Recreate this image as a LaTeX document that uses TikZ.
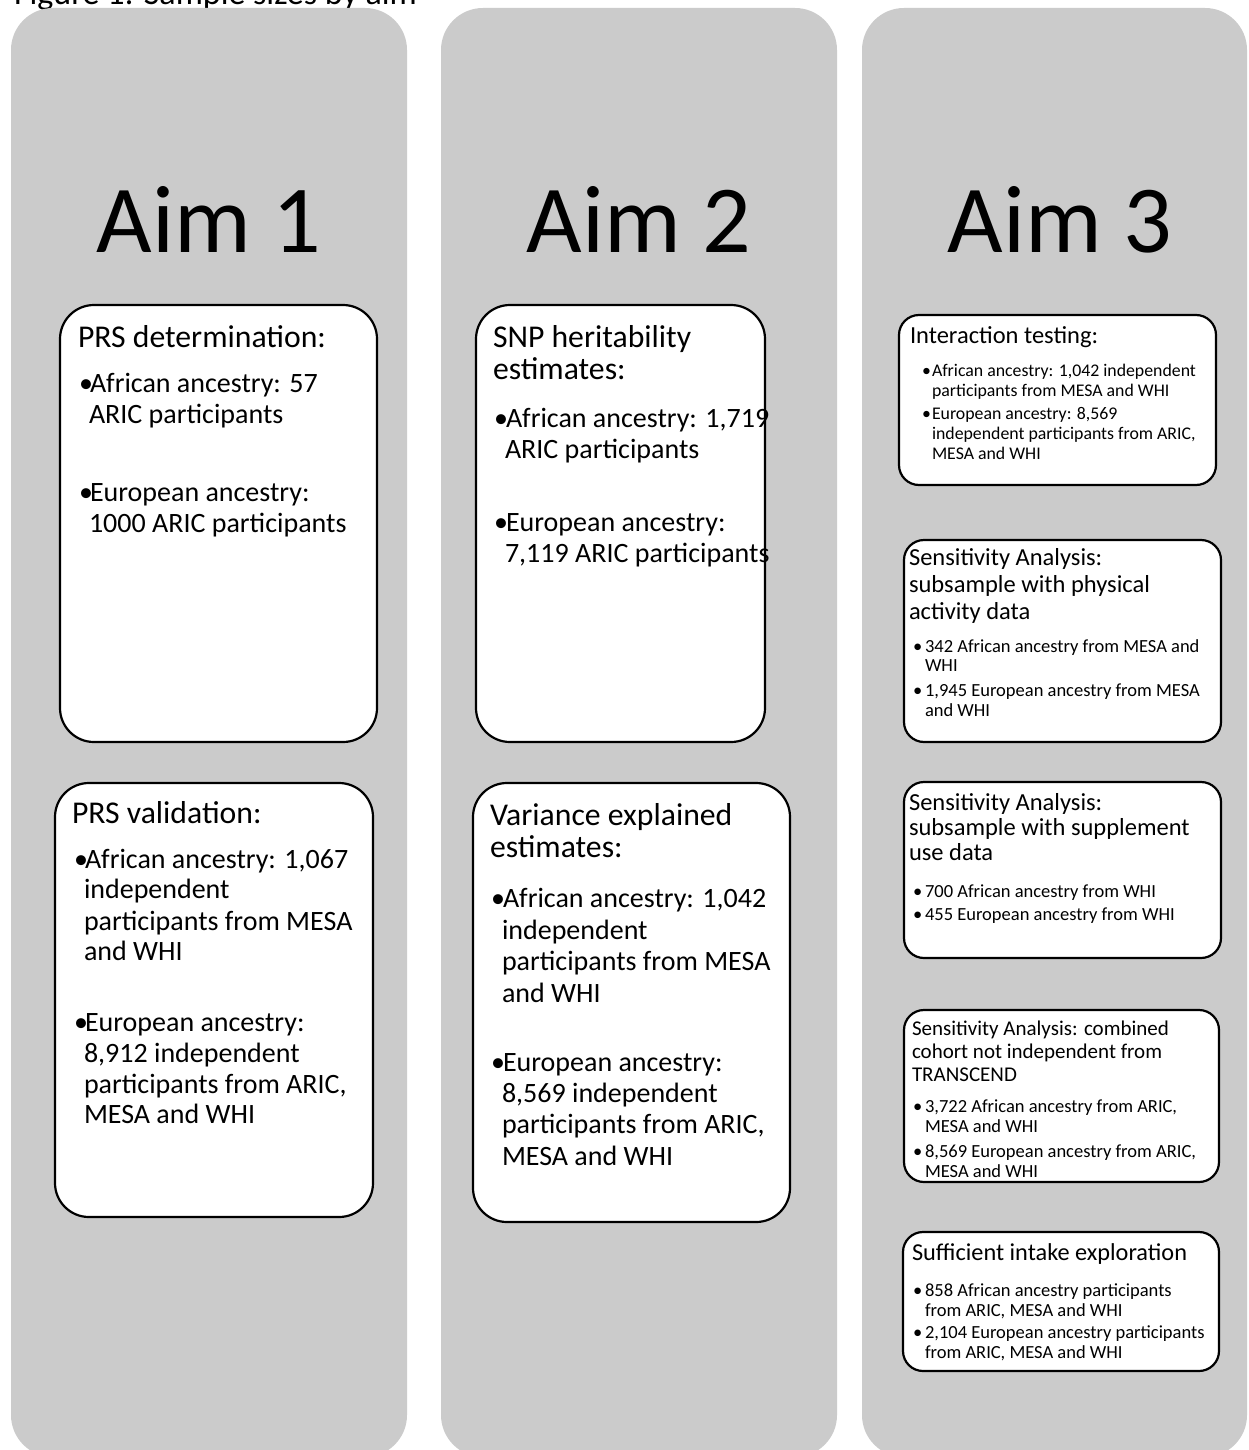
\documentclass[tikz,border=0pt]{standalone}
\usepackage{fontspec}
\setmainfont{Carlito}
\definecolor{panelgray}{RGB}{203,203,203}
\newcommand{\fsz}[1]{\fontsize{#1}{#1}\selectfont}
\tikzset{
  panelbox/.style={fill=panelgray, draw=none, rounded corners=42pt},
  bigbox/.style={fill=white, draw=black, line width=2.2pt, rounded corners=34pt},
  smallbox/.style={fill=white, draw=black, line width=2.2pt, rounded corners=20pt},
  ln/.style={anchor=base west, inner sep=0pt, outer sep=0pt, text=black},
  aim/.style={anchor=base, inner sep=0pt, text=black, font=\fsz{96}},
  bt/.style={ln, font=\fsz{28}},
  bh/.style={ln, font=\fsz{31.7}},
  st/.style={ln, font=\fsz{24.5}},
  sb/.style={ln, font=\fsz{18.5}},
}
\begin{document}
\begin{tikzpicture}[x=1pt, y=-1pt]
\useasboundingbox (0,0) rectangle (1248,1450);
\clip (0,0) rectangle (1248,1450);
\fill[white] (0,0) rectangle (1248,1450);
% caption cut at top
\node[ln, font=\fsz{34}] (caption) at (14,4.5) {Figure 1: Sample sizes by aim};
% panels
\path[panelbox] (11,8) rectangle (407,1457);
\path[panelbox] (441,8) rectangle (837,1457);
\path[panelbox] (862,8) rectangle (1247,1457);
% aim titles
\node[aim] (aim1) at (209,252) {Aim 1};
\node[aim] (aim2) at (639,252) {Aim 2};
\node[aim] (aim3) at (1060,252) {Aim 3};
% column 1 boxes
\path[bigbox] (60,305) rectangle (377,742);
\path[bigbox] (55,783) rectangle (373,1217);
% column 2 boxes
\path[bigbox] (476,305) rectangle (765,742);
\path[bigbox] (473,783) rectangle (790,1222);
% column 3 boxes
\path[smallbox] (899,315) rectangle (1216,485);
\path[smallbox] (904,540) rectangle (1221,742);
\path[smallbox] (904,782) rectangle (1221,958);
\path[smallbox] (904,1010) rectangle (1219,1182);
\path[smallbox] (903,1232) rectangle (1219,1371);

% ---- box 1a
\node[bh] (a1t) at (78,347) {PRS determination:};
\node[bt] (a1b1) at (79,392) {•};
\node[bt] (a1l1) at (90,392) {African ancestry: 57};
\node[bt] (a1l2) at (89,423) {ARIC participants};
\node[bt] (a1b2) at (79,501) {•};
\node[bt] (a1l3) at (90,501) {European ancestry:};
\node[bt] (a1l4) at (89,532) {1000 ARIC participants};

% ---- box 1b
\node[bh] (b1t) at (72,823) {PRS validation:};
\node[bt] (b1b1) at (74,868) {•};
\node[bt] (b1l1) at (85,868) {African ancestry: 1,067};
\node[bt] (b1l2) at (84,898) {independent};
\node[bt] (b1l3) at (84,930) {participants from MESA};
\node[bt] (b1l4) at (84,960) {and WHI};
\node[bt] (b1b2) at (74,1031) {•};
\node[bt] (b1l5) at (85,1031) {European ancestry:};
\node[bt] (b1l6) at (84,1062) {8,912 independent};
\node[bt] (b1l7) at (84,1093) {participants from ARIC,};
\node[bt] (b1l8) at (84,1123) {MESA and WHI};

% ---- box 2a
\node[bh] (a2t1) at (493,347) {SNP heritability};
\node[bh] (a2t2) at (493,379) {estimates:};
\node[bt] (a2b1) at (494,427) {•};
\node[bt] (a2l1) at (506,427) {African ancestry: 1,719};
\node[bt] (a2l2) at (505,458) {ARIC participants};
\node[bt] (a2b2) at (494,531) {•};
\node[bt] (a2l3) at (506,531) {European ancestry:};
\node[bt] (a2l4) at (505,562) {7,119 ARIC participants};

% ---- box 2b
\node[bh] (b2t1) at (490,825) {Variance explained};
\node[bh] (b2t2) at (490,857) {estimates:};
\node[bt] (b2b1) at (491,907) {•};
\node[bt] (b2l1) at (503,907) {African ancestry: 1,042};
\node[bt] (b2l2) at (502,939) {independent};
\node[bt] (b2l3) at (502,970) {participants from MESA};
\node[bt] (b2l4) at (502,1002) {and WHI};
\node[bt] (b2b2) at (491,1071) {•};
\node[bt] (b2l5) at (503,1071) {European ancestry:};
\node[bt] (b2l6) at (502,1102) {8,569 independent};
\node[bt] (b2l7) at (502,1133) {participants from ARIC,};
\node[bt] (b2l8) at (502,1165) {MESA and WHI};

% ---- box 3a
\node[st] (c1t) at (910,343) {Interaction testing:};
\node[sb, font=\fsz{17.8}] (c1b1) at (922,376) {•};
\node[sb, font=\fsz{17.8}] (c1l1) at (932,376) {African ancestry: 1,042 independent};
\node[sb, font=\fsz{17.8}] (c1l2) at (932,396) {participants from MESA and WHI};
\node[sb, font=\fsz{17.8}] (c1b2) at (922,419) {•};
\node[sb, font=\fsz{17.8}] (c1l3) at (932,419) {European ancestry: 8,569};
\node[sb, font=\fsz{17.8}] (c1l4) at (932,439) {independent participants from ARIC,};
\node[sb, font=\fsz{17.8}] (c1l5) at (932,459) {MESA and WHI};

% ---- box 3b
\node[st] (c2t1) at (909,565) {Sensitivity Analysis:};
\node[st] (c2t2) at (909,592) {subsample with physical};
\node[st] (c2t3) at (909,619) {activity data};
\node[sb] (c2b1) at (913,652) {•};
\node[sb] (c2l1) at (925,652) {342 African ancestry from MESA and};
\node[sb] (c2l2) at (925,671) {WHI};
\node[sb] (c2b2) at (913,696) {•};
\node[sb] (c2l3) at (925,696) {1,945 European ancestry from MESA};
\node[sb] (c2l4) at (925,716) {and WHI};

% ---- box 3c
\node[st] (c3t1) at (909,810) {Sensitivity Analysis:};
\node[st] (c3t2) at (909,835) {subsample with supplement};
\node[st] (c3t3) at (909,860) {use data};
\node[sb] (c3b1) at (913,897) {•};
\node[sb] (c3l1) at (925,897) {700 African ancestry from WHI};
\node[sb] (c3b2) at (913,920) {•};
\node[sb] (c3l2) at (925,920) {455 European ancestry from WHI};

% ---- box 3d
\node[ln, font=\fsz{21}] (c4t1) at (912,1035) {Sensitivity Analysis: combined};
\node[ln, font=\fsz{21}] (c4t2) at (912,1058) {cohort not independent from};
\node[ln, font=\fsz{21}] (c4t3) at (912,1081) {TRANSCEND};
\node[sb] (c4b1) at (913,1112) {•};
\node[sb] (c4l1) at (925,1112) {3,722 African ancestry from ARIC,};
\node[sb] (c4l2) at (925,1132) {MESA and WHI};
\node[sb] (c4b2) at (913,1157) {•};
\node[sb] (c4l3) at (925,1157) {8,569 European ancestry from ARIC,};
\node[sb] (c4l4) at (925,1177) {MESA and WHI};

% ---- box 3e
\node[ln, font=\fsz{24.3}] (c5t) at (912,1260) {Sufficient intake exploration};
\node[sb] (c5b1) at (913,1296) {•};
\node[sb] (c5l1) at (925,1296) {858 African ancestry participants};
\node[sb] (c5l2) at (925,1316) {from ARIC, MESA and WHI};
\node[sb] (c5b2) at (913,1338) {•};
\node[sb] (c5l3) at (925,1338) {2,104 European ancestry participants};
\node[sb] (c5l4) at (925,1358) {from ARIC, MESA and WHI};
\end{tikzpicture}
\end{document}
